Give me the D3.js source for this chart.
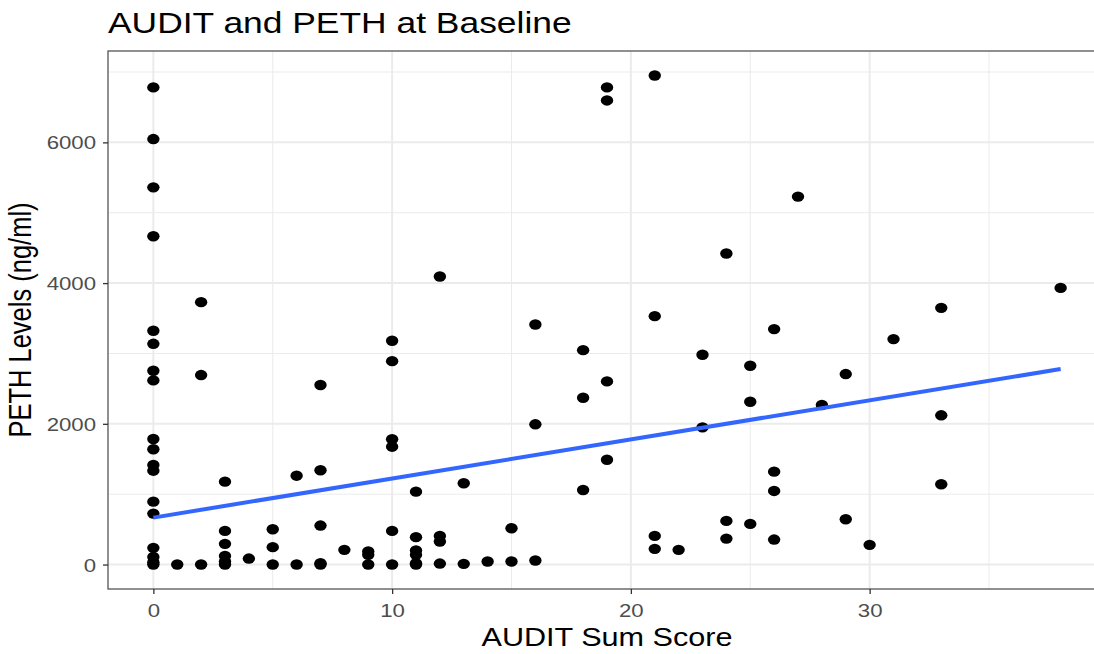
<!DOCTYPE html>
<html>
<head>
<meta charset="utf-8">
<script src="https://cdn.jsdelivr.net/npm/d3@7"></script>
<style>
  body { margin: 0; background: #fff; }
  svg { display: block; font-family: "Liberation Sans", Arial, sans-serif; }
</style>
</head>
<body>
<svg width="1094" height="654"></svg>
<script>
// AUDIT sum score (x) and PETH level in ng/ml (y), one entry per participant
const auditScore = [
  0, 0, 0, 0, 0, 0, 0, 0, 0, 0, 0, 0, 0, 0, 0, 0, 0, 0,
  1,
  2, 2, 2,
  3, 3, 3, 3, 3, 3,
  4,
  5, 5, 5,
  6, 6,
  7, 7, 7, 7, 7,
  8,
  9, 9, 9,
  10, 10, 10, 10, 10, 10,
  11, 11, 11, 11, 11, 11,
  12, 12, 12, 12,
  13, 13,
  14,
  15, 15,
  16, 16, 16,
  18, 18, 18,
  19, 19, 19, 19,
  21, 21, 21, 21,
  22,
  23, 23,
  24, 24, 24,
  25, 25, 25,
  26, 26, 26, 26,
  27,
  28,
  29, 29,
  30,
  31,
  33, 33, 33,
  38
];
const pethLevel = [
  6781, 6047, 5361, 4666, 3322, 3137, 2754, 2617, 1784, 1638, 1415, 1334, 894, 724, 237, 109, 34, 0,
  0,
  3729, 2693, 0,
  1178, 478, 294, 123, 43, 0,
  85,
  502, 247, 0,
  1263, 0,
  2551, 1340, 554, 20, 0,
  209,
  185, 138, 0,
  3180, 2891, 1780, 1675, 478, 0,
  1036, 389, 199, 138, 20, 0,
  4094, 407, 327, 14,
  1155, 10,
  43,
  516, 43,
  3412, 1993, 57,
  3047, 2371, 1060,
  6781, 6596, 2603, 1490,
  6951, 3530, 407, 223,
  209,
  2981, 1950,
  4420, 620, 369,
  2825, 2314, 578,
  3346, 1320, 1046, 355,
  5229,
  2267,
  2707, 644,
  280,
  3204,
  3648, 2121, 1141,
  3932
];
// fitted linear trend (geom_smooth, method = lm) read at its ends
const smoothX = [0, 38];
const smoothY = [667, 2778];

const xTicks = [0, 10, 20, 30];
const xMinor = [5, 15, 25, 35];
const yTicks = [0, 2000, 4000, 6000];
const yMinor = [1000, 3000, 5000, 7000];

const svg = d3.select("svg");
const stretch = 1.2; // the reference is drawn slightly wide

const panel = { left: 108, right: 1106, top: 51, bottom: 589 };

const points = auditScore.map((d, i) => ({ x: d, y: pethLevel[i] }));

// ggplot style 5% expansion
const xExt = d3.extent(auditScore);
const yExt = d3.extent(pethLevel);
const xPad = (xExt[1] - xExt[0]) * 0.05;
const yPad = (yExt[1] - yExt[0]) * 0.05;

const xScale = d3.scaleLinear()
  .domain([xExt[0] - xPad, xExt[1] + xPad])
  .range([panel.left, panel.right]);
const yScale = d3.scaleLinear()
  .domain([yExt[0] - yPad, yExt[1] + yPad])
  .range([panel.bottom, panel.top]);

// panel background + grid
svg.append("rect")
  .attr("x", panel.left).attr("y", panel.top)
  .attr("width", panel.right - panel.left)
  .attr("height", panel.bottom - panel.top)
  .attr("fill", "#fff");

const grid = svg.append("g");
grid.selectAll(".xminor").data(xMinor).join("line")
  .attr("x1", d => xScale(d)).attr("x2", d => xScale(d))
  .attr("y1", panel.top).attr("y2", panel.bottom)
  .attr("stroke", "#ebebeb").attr("stroke-width", 1);
grid.selectAll(".yminor").data(yMinor).join("line")
  .attr("y1", d => yScale(d)).attr("y2", d => yScale(d))
  .attr("x1", panel.left).attr("x2", panel.right)
  .attr("stroke", "#ebebeb").attr("stroke-width", 1);
grid.selectAll(".xmajor").data(xTicks).join("line")
  .attr("x1", d => xScale(d)).attr("x2", d => xScale(d))
  .attr("y1", panel.top).attr("y2", panel.bottom)
  .attr("stroke", "#ebebeb").attr("stroke-width", 2);
grid.selectAll(".ymajor").data(yTicks).join("line")
  .attr("y1", d => yScale(d)).attr("y2", d => yScale(d))
  .attr("x1", panel.left).attr("x2", panel.right)
  .attr("stroke", "#ebebeb").attr("stroke-width", 2);

// points
svg.append("g").selectAll("ellipse").data(points).join("ellipse")
  .attr("cx", d => xScale(d.x))
  .attr("cy", d => yScale(d.y))
  .attr("rx", 6.2)
  .attr("ry", 5.2)
  .attr("fill", "#000");

// trend line
const line = d3.line()
  .x((d, i) => xScale(d))
  .y((d, i) => yScale(smoothY[i]));
svg.append("path")
  .datum(smoothX)
  .attr("d", line)
  .attr("fill", "none")
  .attr("stroke", "#3366FF")
  .attr("stroke-width", 4);

// panel border
svg.append("rect")
  .attr("x", panel.left).attr("y", panel.top)
  .attr("width", panel.right - panel.left)
  .attr("height", panel.bottom - panel.top)
  .attr("fill", "none")
  .attr("stroke", "#555")
  .attr("stroke-width", 1.3);

// axes
const xAxis = svg.append("g")
  .attr("transform", `translate(0,${panel.bottom})`)
  .call(d3.axisBottom(xScale).tickValues(xTicks).tickFormat(d3.format("d"))
    .tickSize(5).tickSizeOuter(0).tickPadding(6));
const yAxis = svg.append("g")
  .attr("transform", `translate(${panel.left},0)`)
  .call(d3.axisLeft(yScale).tickValues(yTicks).tickFormat(d3.format("d"))
    .tickSize(5).tickSizeOuter(0).tickPadding(7));

[xAxis, yAxis].forEach(ax => {
  ax.select(".domain").remove();
  ax.selectAll(".tick line").attr("stroke", "#333").attr("stroke-width", 1.3);
  ax.selectAll(".tick text")
    .attr("fill", "#4d4d4d")
    .style("font-size", "18.5px")
    .style("font-family", "'Liberation Sans', Arial, sans-serif");
});
xAxis.selectAll(".tick text")
  .attr("dy", null)
  .attr("y", 0)
  .attr("transform", `translate(0,28) scale(${stretch},1)`);
yAxis.selectAll(".tick text")
  .attr("x", 0)
  .attr("dy", "0.35em")
  .attr("transform", `translate(-12,0) scale(${stretch},1)`);

// titles
svg.append("text")
  .attr("transform", `translate(${panel.left},33) scale(${stretch},1)`)
  .style("font-size", "29.5px")
  .attr("fill", "#000")
  .text("AUDIT and PETH at Baseline");

svg.append("text")
  .attr("transform", `translate(${(panel.left + panel.right) / 2},646) scale(${stretch},1)`)
  .attr("text-anchor", "middle")
  .style("font-size", "25.5px")
  .attr("fill", "#000")
  .text("AUDIT Sum Score");

svg.append("text")
  .attr("transform", `translate(31,${(panel.top + panel.bottom) / 2}) scale(${stretch},1) rotate(-90)`)
  .attr("text-anchor", "middle")
  .style("font-size", "25.5px")
  .attr("fill", "#000")
  .text("PETH Levels (ng/ml)");
</script>
</body>
</html>
